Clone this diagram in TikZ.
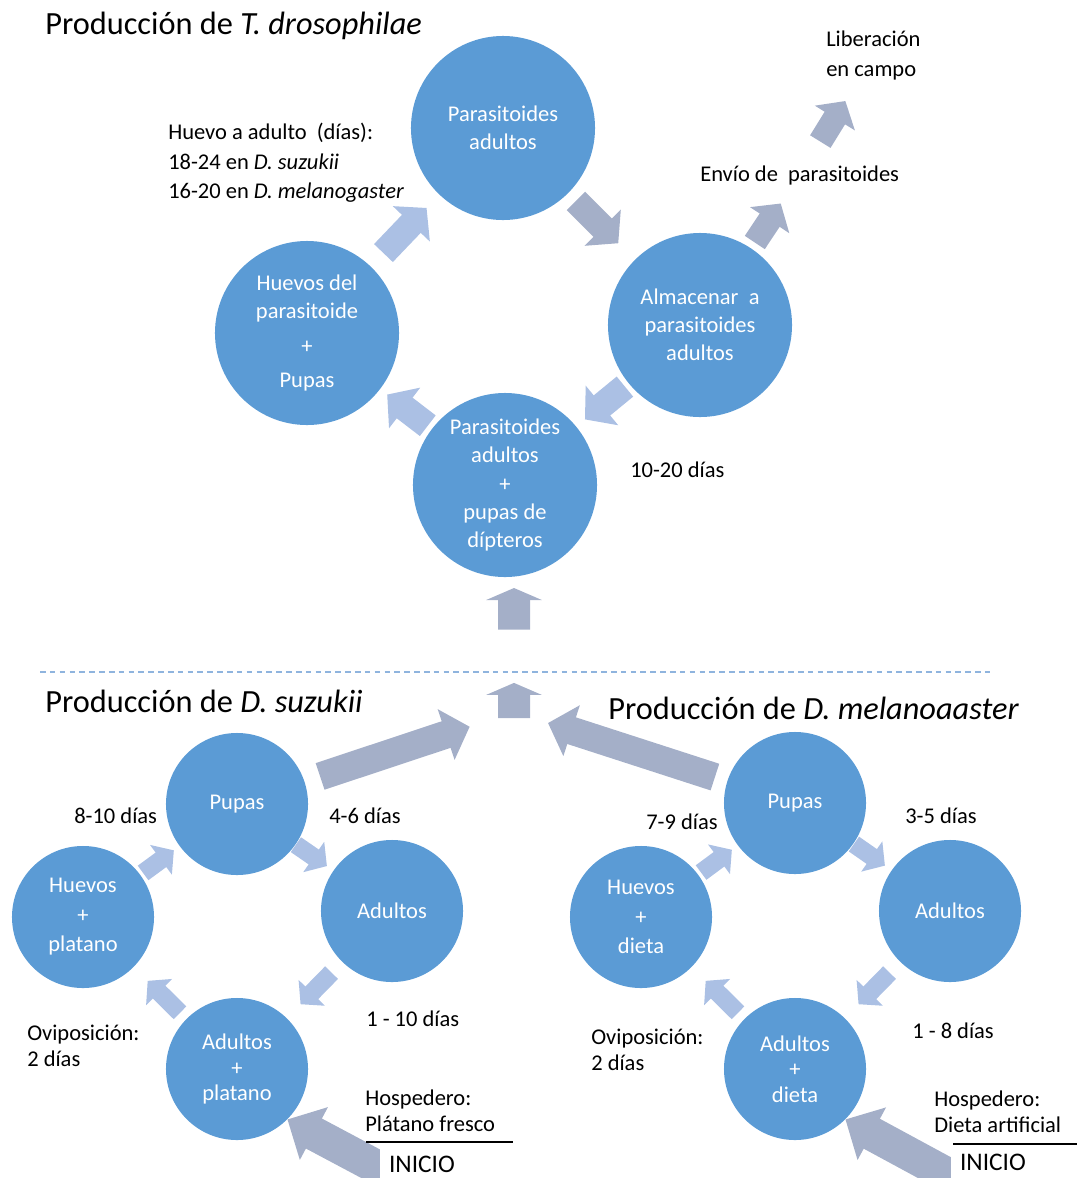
\documentclass[tikz,border=0pt]{standalone}
\usepackage{fontspec}
\setmainfont{Carlito}
\usetikzlibrary{arrows.meta,calc}

\definecolor{discblue}{RGB}{91,155,213}
\definecolor{arrlight}{RGB}{171,192,228}
\definecolor{arrgrey}{RGB}{164,175,200}
\definecolor{dashblue}{RGB}{143,180,222}

\tikzset{
  bigdisc/.style={circle, fill=discblue, text=white, minimum size=4.6cm, inner sep=0pt,
    align=center, font=\fontsize{16}{20}\selectfont},
  smalldisc/.style={bigdisc, minimum size=3.55cm},
  note/.style={inner sep=0pt, align=left, font=\fontsize{16}{21}\selectfont},
  tightnote/.style={note, font=\fontsize{16}{18.5}\selectfont},
  heading/.style={inner sep=0pt, anchor=base west, font=\fontsize{23}{28}\selectfont},
  startlbl/.style={fill=white, inner xsep=0.22cm, inner ysep=0.3cm, anchor=base west,
    font=\fontsize{18}{22}\selectfont},
  cycarr/.style={draw=arrlight, line width=0.65cm, -{Triangle[length=0.55cm,width=1.25cm]}},
  cycgrey/.style={cycarr, draw=arrgrey},
  sendarr/.style={draw=arrgrey, line width=0.6cm, -{Triangle[length=0.5cm,width=1.15cm]}},
  uparr/.style={draw=arrgrey, line width=0.8cm, -{Triangle[length=0.3cm,width=1.38cm]}},
  bigarr/.style={draw=arrgrey, line width=0.7cm, -{Triangle[length=0.62cm,width=1.3cm]}},
  inarr/.style={draw=arrgrey, line width=0.85cm, -{Triangle[length=0.75cm,width=1.45cm]}},
  smallarr/.style={draw=arrlight, line width=0.45cm, -{Triangle[length=0.4cm,width=0.9cm]}}
}

\begin{document}
\begin{tikzpicture}[x=0.025cm, y=-0.025cm]
  \path[use as bounding box, clip] (0,0) rectangle (1077,1178);

  % parasitoid cycle
  \node[bigdisc] (parA) at (503,128) {Parasitoides\\adultos};
  \node[bigdisc] (store) at (700,325) {Almacenar~ a\\parasitoides\\adultos};
  \node[bigdisc] (mix) at (505,485) {Parasitoides\\adultos\\+\\pupas de\\dípteros};
  \node[bigdisc] (eggs) at (307,333) {Huevos del\\parasitoide\\[5pt]+\\[4pt]Pupas};

  \node[heading] (ttl) at (45,34) {Producción de \textit{T. drosophilae}};
  \node[note, anchor=north west] (devtime) at (168,123)
    {Huevo a adulto~ (días):\\18-24 en \textit{D. suzukii}\\16-20 en \textit{D. melanogaster}};
  \node[note, anchor=base west] (envio) at (700,181) {Envío de~ parasitoides};
  \node[note, anchor=north west] (lib) at (826,31) {Liberación\\en campo};
  \node[note, anchor=base west] (store days) at (630,477) {10-20 días};

  \draw[cycarr] ($(eggs)!.39!(parA)$) -- ($(eggs)!.61!(parA)$);
  \draw[cycgrey] ($(parA)!.37!(store)$) -- ($(parA)!.585!(store)$);
  \draw[cycarr] ($(store)!.385!(mix)$) -- ($(store)!.59!(mix)$);
  \draw[cycarr] ($(mix)!.39!(eggs)$) -- ($(mix)!.595!(eggs)$);
  \draw[sendarr] ($(store)!.55!(envio)$) -- ($(store)!.81!(envio)$);
  \draw[sendarr] ($(envio)!.28!(lib)$) -- ($(envio)!.62!(lib)$);

  % separation
  \coordinate (dashL) at (40,672);
  \coordinate (dashR) at (990,672);
  \draw[dashblue, line width=1pt, dash pattern=on 4pt off 3pt] (dashL) -- (dashR);

  \coordinate (gate) at (514,718);
  \coordinate (feed) at (514,588);
  \coordinate (hub) at (514,712);
  \draw[uparr] ($(gate)!.68!(feed)$) -- (feed);
  \draw[uparr] (gate) -- ($(gate)!.27!(feed)$);

  % host cycles
  \node[heading] (ttlS) at (45,712) {Producción de \textit{D. suzukii}};
  \node[heading] (ttlM) at (608,719) {Producción de \textit{D. melanoaaster}};

  \node[smalldisc] (pupS) at (237,804) {Pupas};
  \node[smalldisc] (adS) at (392,911) {Adultos};
  \node[smalldisc] (matS) at (237,1069) {Adultos\\[-2pt]+\\[-2pt]platano};
  \node[smalldisc] (eggS) at (83,917) {Huevos\\[1pt]+\\[1pt]platano};

  \node[smalldisc] (pupM) at (795,803) {Pupas};
  \node[smalldisc] (adM) at (950,911) {Adultos};
  \node[smalldisc] (matM) at (795,1069) {Adultos\\[-2pt]+\\[-2pt]dieta};
  \node[smalldisc] (eggM) at (641,917) {Huevos\\[1pt]+\\[1pt]dieta};

  \foreach \c in {S,M}{
    \draw[smallarr] ($(pup\c)!.38!(ad\c)$) -- ($(pup\c)!.58!(ad\c)$);
    \draw[smallarr] ($(ad\c)!.39!(mat\c)$) -- ($(ad\c)!.59!(mat\c)$);
    \draw[smallarr] ($(mat\c)!.37!(egg\c)$) -- ($(mat\c)!.58!(egg\c)$);
    \draw[smallarr] ($(egg\c)!.39!(pup\c)$) -- ($(egg\c)!.59!(pup\c)$);
  }

  \draw[bigarr] ($(pupS)!.30!(hub)$) -- ($(pupS)!.84!(hub)$);
  \draw[bigarr] ($(pupM)!.285!(hub)$) -- ($(pupM)!.879!(hub)$);

  \node[note, anchor=base west] (pupdaysS) at (74,823) {8-10 días};
  \node[note, anchor=base west] (addaysS) at (329,823) {4-6 días};
  \node[note, anchor=base west] (matdaysS) at (366,1026) {1 - 10 días};
  \node[tightnote, anchor=north west] (oviS) at (27,1025) {Oviposición:\\2 días};
  \node[tightnote, anchor=north west] (hostS) at (365,1090) {Hospedero:\\Plátano fresco};
  \coordinate (inS) at (420,1190);
  \draw[inarr] (inS) -- (matS.south east);
  \node[startlbl] (startS) at (380,1172) {INICIO};
  \draw[line width=0.8pt] (366,1142) -- (513,1142);

  \node[note, anchor=base west] (pupdaysM) at (646,829) {7-9 días};
  \node[note, anchor=base west] (addaysM) at (905,823) {3-5 días};
  \node[note, anchor=base west] (matdaysM) at (912,1038) {1 - 8 días};
  \node[tightnote, anchor=north west] (oviM) at (591,1029) {Oviposición:\\2 días};
  \node[tightnote, anchor=north west] (hostM) at (934,1091) {Hospedero:\\Dieta artificial};
  \coordinate (inM) at (985,1195);
  \draw[inarr] (inM) -- (matM.south east);
  \node[startlbl] (startM) at (951,1170) {INICIO};
  \draw[line width=0.8pt] (953,1144) -- (1077,1144);
\end{tikzpicture}
\end{document}
